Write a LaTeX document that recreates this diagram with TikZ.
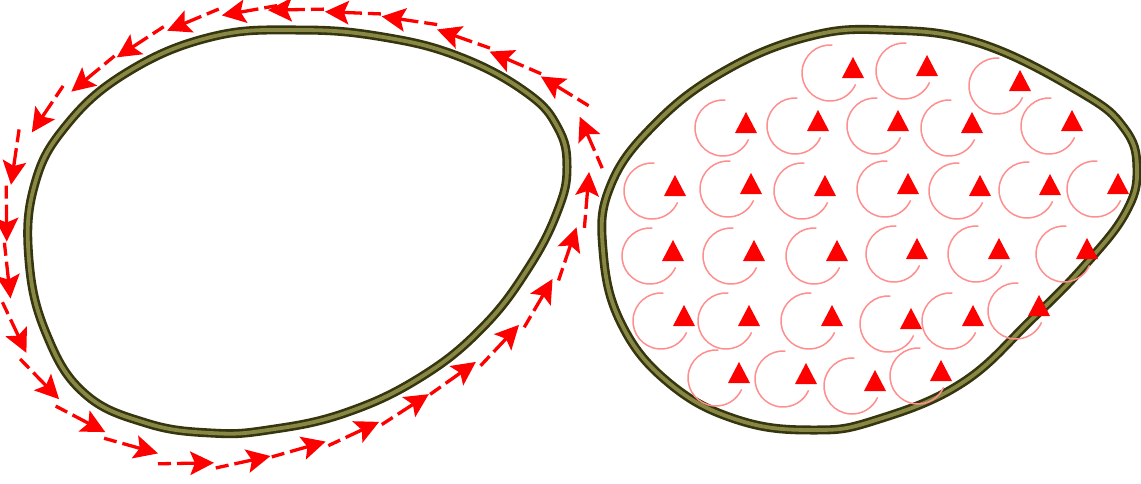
\documentclass[tikz,border=0pt]{standalone}
\usetikzlibrary{decorations.markings}
\definecolor{ringdark}{HTML}{35350F}
\definecolor{ringlight}{HTML}{888844}
\definecolor{swirlpink}{HTML}{FF8E8E}
\begin{document}
\begin{tikzpicture}[x=1pt,y=1pt,
  ring/.style={draw=ringdark, line width=2.6pt, double=ringlight, double distance=3.8pt},
  flowdash/.style={red, line width=3.3pt},
  flowhead/.style={fill=red},
  swirlarc/.style={draw=swirlpink, line width=1.5pt},
  swirltip/.style={fill=red},
  swirl/.pic={
    \draw[swirlarc] (85:28) arc[start angle=85,end angle=336,radius=28];
    \fill[swirltip] (12,-5) -- (34,-5) -- (23,16) -- cycle;
  }]
\useasboundingbox (0,0) rectangle (1141,-483);
\fill[white] (0,0) rectangle (1141,-483);

% left ring
\draw[ring] plot[smooth cycle, tension=0.7] coordinates {
 (299,-30) (383,-37) (460,-57) (527,-93) (558,-128) (567,-167) (558,-210)
 (529,-267) (483,-327) (421,-377) (345,-413) (268,-430) (211,-433) (146,-423)
 (84,-393) (46,-333) (29,-260) (34,-187) (65,-127) (126,-73) (211,-37)};

% circulation arrows around the left ring
\path[postaction={decorate}, decoration={markings,
  mark=between positions 0.005 and 1 step 57pt with {
    \draw[flowdash] (-56pt,0pt) -- (-43pt,0pt);
    \draw[flowdash] (-37pt,0pt) -- (-18pt,0pt);
    \fill[flowhead] (0pt,0pt) -- (-24pt,12pt) -- (-19pt,0pt) -- (-24pt,-12pt) -- cycle;}}]
 plot[smooth cycle, tension=0.7] coordinates {
 (306,-11) (230,-14) (153,-37) (77,-87) (27,-140) (9,-200) (9,-283) (22,-343)
 (57,-397) (107,-433) (172,-457) (230,-462) (306,-447) (383,-420) (460,-373)
 (517,-327) (556,-273) (579,-220) (589,-173) (586,-133) (556,-87) (479,-47) (402,-20)};

% right ring
\draw[ring] plot[smooth cycle, tension=0.7] coordinates {
 (886,-30) (979,-43) (1080,-92) (1124,-128) (1137,-168) (1126,-212) (1085,-265)
 (1031,-320) (962,-383) (876,-420) (814,-430) (738,-420) (669,-383) (621,-323)
 (603,-250) (610,-187) (652,-127) (721,-73) (807,-37)};

% small vortices inside the right ring
\foreach \p in {
 (830,-73),(904,-71),(997,-86),
 (723,-128),(795,-126),(875,-126),(949,-128),(1049,-126),
 (652,-191),(728,-189),(802,-191),(885,-189),(957,-191),(1027,-190),(1095,-189),
 (650,-256),(731,-256),(814,-256),(894,-254),(976,-254),(1064,-254),
 (661,-321),(726,-321),(809,-321),(888,-324),(950,-321),(1016,-311),
 (716,-378),(783,-379),(852,-386),(918,-376)}
  \pic at \p {swirl};
\end{tikzpicture}
\end{document}
